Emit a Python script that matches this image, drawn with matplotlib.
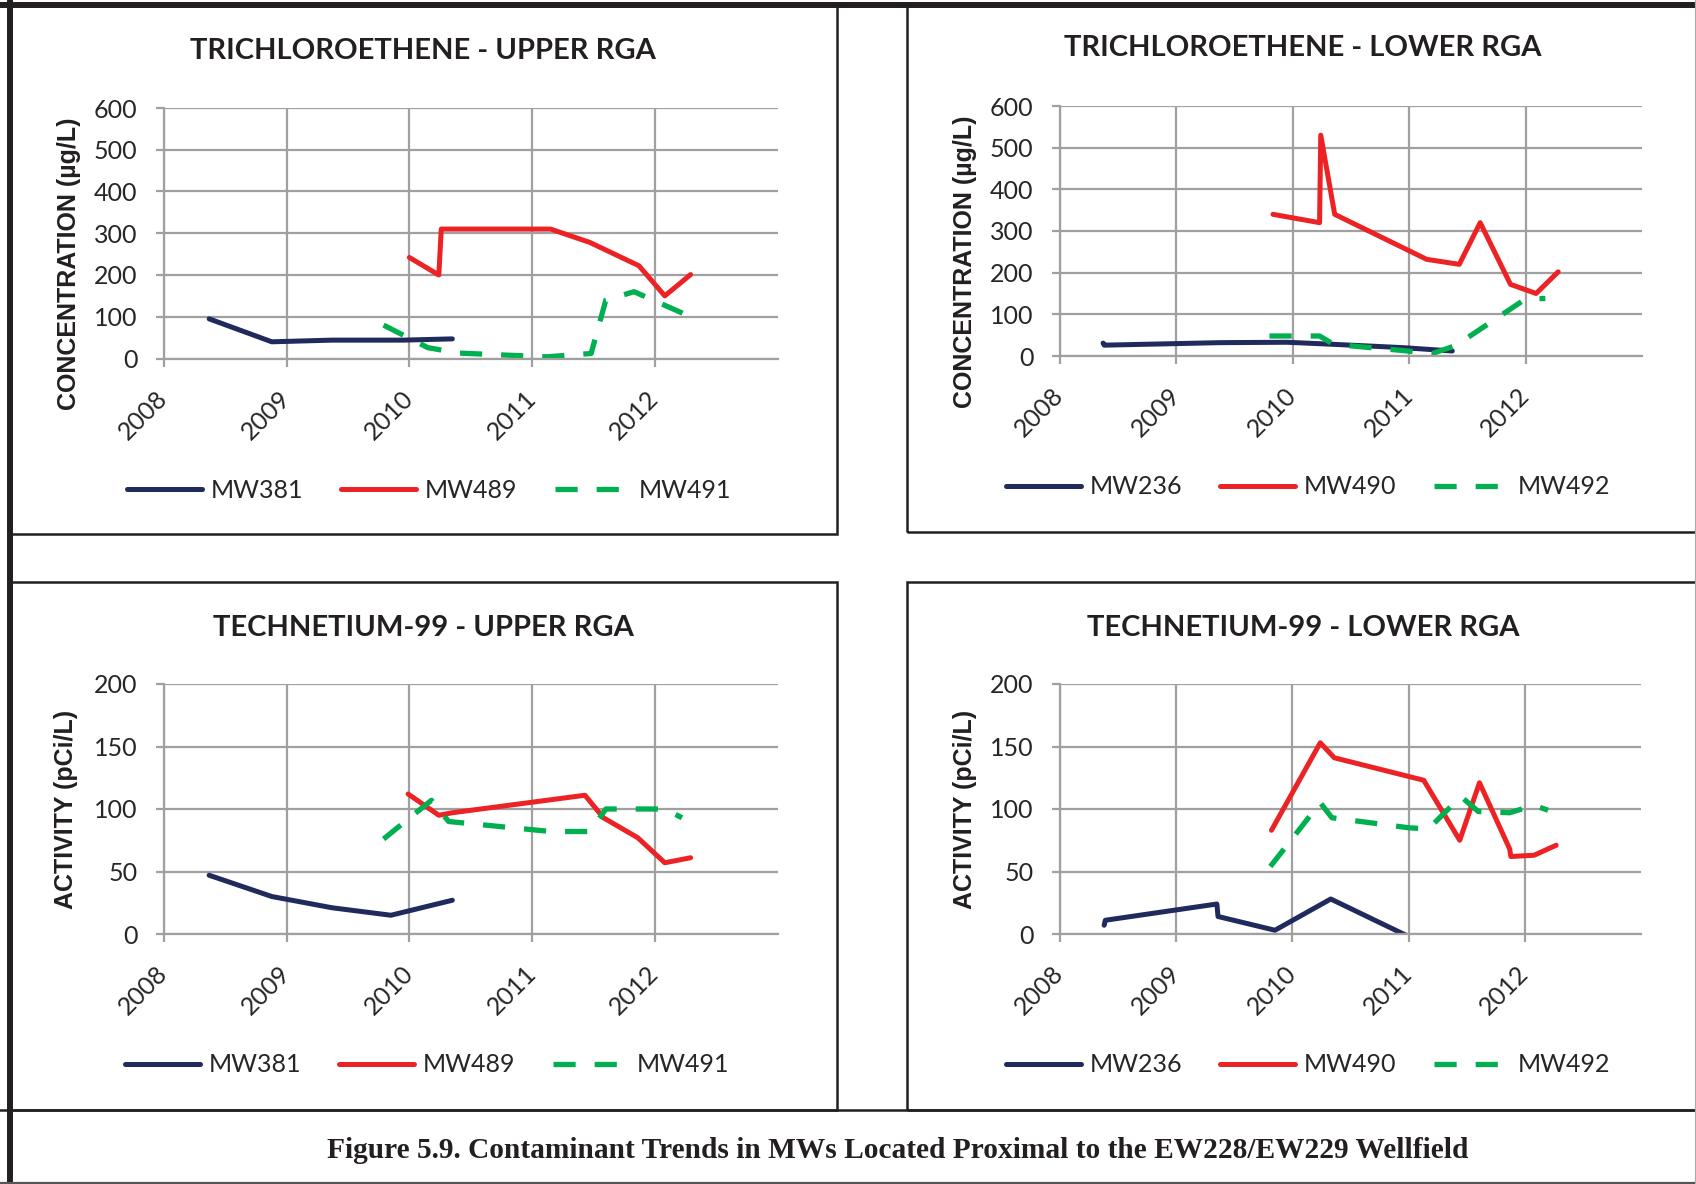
import matplotlib
matplotlib.use("Agg")
import matplotlib.pyplot as plt
from matplotlib.lines import Line2D
from matplotlib.patches import Rectangle

W, H = 1696, 1184

plt.rcParams["font.family"] = ["Lato", "DejaVu Sans"]

NAVY = "#202A5C"
RED = "#ED2224"
GREEN = "#00B050"
GRID = "#A0A0A0"
INK = "#231F20"

YEARS = [2008, 2009, 2010, 2011, 2012]

# ---- TCE, upper RGA (ug/L) ----
tce_up_mw381_x = [2008.37, 2008.88, 2009.37, 2009.95, 2010.35]
tce_up_mw381_y = [95, 40, 44, 44, 47]
tce_up_mw489_x = [2010.0, 2010.24, 2010.26, 2011.15, 2011.47, 2011.87, 2012.08, 2012.29]
tce_up_mw489_y = [242, 200, 310, 310, 278, 222, 150, 201]
tce_up_mw491_x = [2009.79, 2010.15, 2010.4, 2011.12, 2011.48, 2011.6, 2011.83, 2012.29]
tce_up_mw491_y = [80, 26, 13, 4, 12, 140, 160, 100]

# ---- TCE, lower RGA (ug/L) ----
tce_lo_mw236_x = [2008.37, 2008.38, 2009.37, 2009.95, 2010.35, 2010.95, 2011.37]
tce_lo_mw236_y = [31, 26, 32, 33, 28, 20, 12]
tce_lo_mw490_x = [2009.83, 2010.23, 2010.24, 2010.36, 2011.15, 2011.43, 2011.61, 2011.87, 2012.09, 2012.28]
tce_lo_mw490_y = [340, 320, 530, 340, 232, 220, 320, 172, 150, 202]
tce_lo_mw492_x = [2009.8, 2010.23, 2010.35, 2010.95, 2011.2, 2011.4, 2012.0, 2012.17]
tce_lo_mw492_y = [48, 48, 28, 13, 6, 25, 137, 138]

# ---- Tc-99, upper RGA (pCi/L) ----
tc_up_mw381_x = [2008.37, 2008.88, 2009.37, 2009.85, 2010.35]
tc_up_mw381_y = [47, 30, 21, 15, 27]
tc_up_mw489_x = [2009.99, 2010.24, 2010.35, 2011.43, 2011.58, 2011.86, 2012.08, 2012.29]
tc_up_mw489_y = [112, 95, 97, 111, 93, 77, 57, 61]
tc_up_mw491_x = [2009.79, 2010.18, 2010.32, 2011.15, 2011.47, 2011.6, 2012.08, 2012.22]
tc_up_mw491_y = [76, 107, 90, 82, 82, 100, 100, 93]

# ---- Tc-99, lower RGA (pCi/L) ----
tc_lo_mw236_x = [2008.38, 2008.39, 2009.35, 2009.36, 2009.85, 2010.33, 2011.0]
tc_lo_mw236_y = [7, 11, 24, 14, 3, 28, -2]
tc_lo_mw490_x = [2009.82, 2010.24, 2010.36, 2011.13, 2011.44, 2011.61, 2011.87, 2011.88, 2012.08, 2012.27]
tc_lo_mw490_y = [83, 153, 141, 123, 75, 121, 68, 62, 63, 71]
tc_lo_mw492_x = [2009.81, 2010.24, 2010.34, 2011.0, 2011.17, 2011.45, 2011.6, 2011.87, 2012.08, 2012.2]
tc_lo_mw492_y = [54, 105, 93, 85, 84, 110, 98, 97, 103, 99]

CAPTION = "Figure 5.9. Contaminant Trends in MWs Located Proximal to the EW228/EW229 Wellfield"


def fx(px):
    return px / W


def fy(py):
    return 1 - py / H


def style_for(kind):
    if kind == "dash":
        return dict(color=GREEN, lw=3.8, linestyle=(0, (4.2, 3.6)), dash_capstyle="butt")
    return dict(color=kind, lw=3.6, solid_capstyle="round", solid_joinstyle="round")


def draw_panel(fig, box, series, title, title_xy, ylabel, ylabel_xy, ymax, ystep, legend_xy):
    left, top, right, bottom = box
    ax = fig.add_axes([fx(left), fy(bottom), (right - left) / W, (bottom - top) / H])
    for (x, y, name, kind) in series:
        ax.plot(x, y, label=name, **style_for(kind))
    ax.set_xlim(2008, 2013)
    ax.set_ylim(0, ymax)
    ax.set_xticks(YEARS)
    ax.set_yticks(range(0, ymax + 1, ystep))
    ax.set_xticklabels([str(y) for y in YEARS], rotation=45, ha="right", va="center",
                       rotation_mode="anchor")
    ax.grid(True, color=GRID, lw=1.6)
    ax.set_axisbelow(True)
    for s in ("top", "right"):
        ax.spines[s].set_visible(False)
    for s in ("left", "bottom"):
        ax.spines[s].set_color(GRID)
        ax.spines[s].set_linewidth(1.6)
    ax.tick_params(axis="both", colors=GRID, length=6, width=1.6, labelsize=18,
                   labelcolor="#262626")
    ax.tick_params(axis="y", pad=13)
    ax.tick_params(axis="x", pad=20)

    fig.text(fx(title_xy[0]), fy(title_xy[1]), title, ha="center", va="center",
             fontsize=21, fontweight="bold", color=INK)
    fig.text(fx(ylabel_xy[0]), fy(ylabel_xy[1]), ylabel, ha="center", va="center",
             rotation=90, fontsize=18, fontweight="bold", color=INK,
             family=["Liberation Sans", "DejaVu Sans"])

    handles = [Line2D([], [], **style_for(kind)) for (_, _, _, kind) in series]
    labels = [name for (_, _, name, _) in series]
    fig.legend(handles, labels, loc="center", bbox_to_anchor=(fx(legend_xy[0]), fy(legend_xy[1])),
               bbox_transform=fig.transFigure, ncol=3, frameon=False, fontsize=18,
               handlelength=3.0, handletextpad=0.35, columnspacing=1.5,
               labelcolor="#262626")
    return ax


def line(fig, x0, y0, x1, y1, lw, color=INK):
    fig.add_artist(Line2D([fx(x0), fx(x1)], [fy(y0), fy(y1)], transform=fig.transFigure,
                          color=color, lw=lw, solid_capstyle="projecting"))


def main():
    fig = plt.figure(figsize=(W / 100, H / 100), dpi=100)

    draw_panel(fig, (163.7, 108, 777.8, 358.5),
               [(tce_up_mw381_x, tce_up_mw381_y, "MW381", NAVY),
                (tce_up_mw489_x, tce_up_mw489_y, "MW489", RED),
                (tce_up_mw491_x, tce_up_mw491_y, "MW491", "dash")],
               "TRICHLOROETHENE - UPPER RGA", (423, 51), "CONCENTRATION (\u00b5g/L)", (69, 264),
               600, 100, (429, 490))
    draw_panel(fig, (1060, 106, 1642, 356),
               [(tce_lo_mw236_x, tce_lo_mw236_y, "MW236", NAVY),
                (tce_lo_mw490_x, tce_lo_mw490_y, "MW490", RED),
                (tce_lo_mw492_x, tce_lo_mw492_y, "MW492", "dash")],
               "TRICHLOROETHENE - LOWER RGA", (1303, 48), "CONCENTRATION (\u00b5g/L)", (965, 262),
               600, 100, (1308, 487))
    draw_panel(fig, (163.7, 684, 777.8, 934),
               [(tc_up_mw381_x, tc_up_mw381_y, "MW381", NAVY),
                (tc_up_mw489_x, tc_up_mw489_y, "MW489", RED),
                (tc_up_mw491_x, tc_up_mw491_y, "MW491", "dash")],
               "TECHNETIUM-99 - UPPER RGA", (423, 628), "ACTIVITY (pCi/L)", (66, 809),
               200, 50, (427, 1065))
    draw_panel(fig, (1060, 684, 1641, 934),
               [(tc_lo_mw236_x, tc_lo_mw236_y, "MW236", NAVY),
                (tc_lo_mw490_x, tc_lo_mw490_y, "MW490", RED),
                (tc_lo_mw492_x, tc_lo_mw492_y, "MW492", "dash")],
               "TECHNETIUM-99 - LOWER RGA", (1303, 628), "ACTIVITY (pCi/L)", (965, 809),
               200, 50, (1308, 1065))

    # panel frames
    for (l, t, r, b) in [(9.5, 5, 836.5, 533.5), (906.5, 5, 1700, 532),
                         (9.5, 582, 836.5, 1110), (906.5, 582, 1700, 1110)]:
        fig.add_artist(Rectangle((fx(l), fy(b)), (r - l) / W, (b - t) / H,
                                 transform=fig.transFigure, fill=False, ec=INK, lw=1.8))
    # outer frame
    line(fig, 9.5, 0, 9.5, H, 4.3)
    line(fig, 0, 5, W, 5, 4.3)
    line(fig, 0, 1110, W, 1110, 1.8)
    line(fig, 0, 1182.5, W, 1182.5, 1.6, "#555555")
    line(fig, 1695, 0, 1695, H, 0.8, "#AAAAAA")

    fig.text(fx(898), fy(1150), CAPTION, ha="center", va="center", fontsize=21.2,
             fontweight="bold", family=["Liberation Serif", "DejaVu Serif"], color=INK)

    fig.savefig("out.png", dpi=100)


if __name__ == "__main__":
    main()
